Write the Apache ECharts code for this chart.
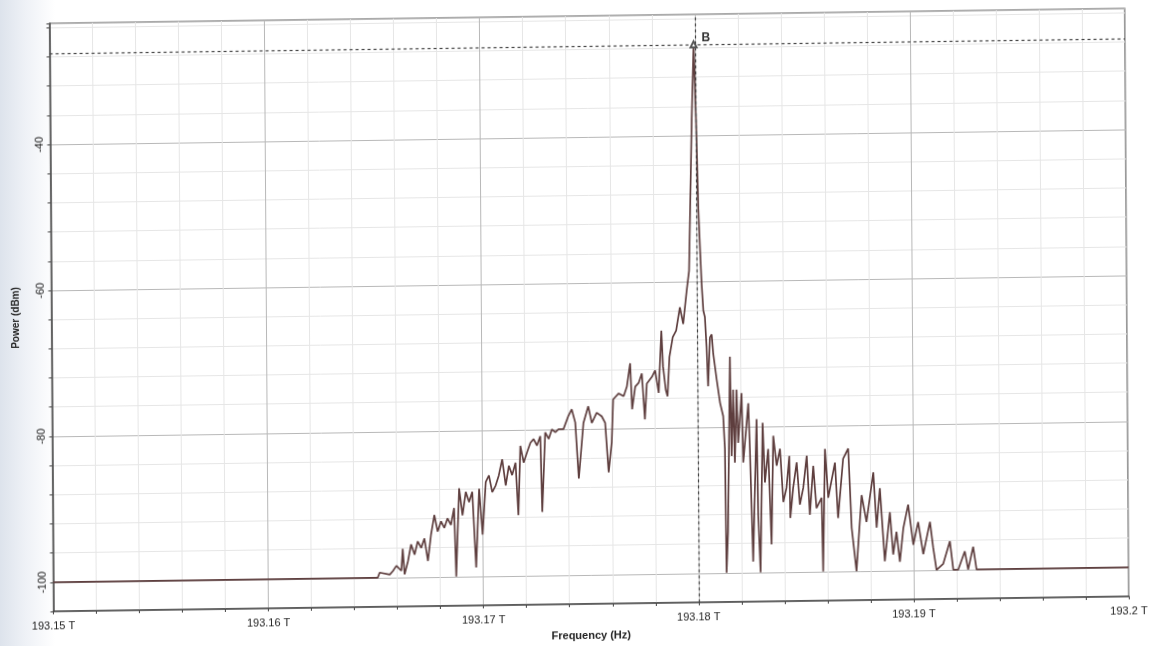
<!DOCTYPE html>
<html>
<head>
<meta charset="utf-8">
<title>Spectrum</title>
<script src="https://cdn.jsdelivr.net/npm/echarts@6.0.0/dist/echarts.min.js"></script>
<style>
  html, body {
    margin: 0;
    padding: 0;
    width: 1168px;
    height: 646px;
    overflow: hidden;
    background: linear-gradient(to right, #dde3ec 0px, #eef1f6 25px, #ffffff 55px);
  }
  /* the reference is a photo of a printout, slightly skewed */
  #main {
    width: 1168px;
    height: 646px;
    transform: matrix(1, -0.0139, 0.0068, 1, 0, 0);
    transform-origin: 584px 323px;
  }
</style>
</head>
<body>
<div id="main"></div>
<script>
// 横轴: 频率 (THz)
var freqTHz = [
  193.15, 193.16509, 193.16518, 193.16565, 193.1658, 193.16596, 193.16619, 193.16626, 193.16634, 193.1665,
  193.16665, 193.16681, 193.16696, 193.16712, 193.16727, 193.16743, 193.16758, 193.16774, 193.16789, 193.16805,
  193.1682, 193.16835, 193.16851, 193.16866, 193.16874, 193.1689, 193.16905, 193.16921, 193.16936, 193.16951,
  193.16967, 193.16983, 193.16998, 193.17014, 193.17029, 193.17044, 193.1706, 193.17075, 193.17091, 193.17107,
  193.17122, 193.17137, 193.17153, 193.17165, 193.17176, 193.17191, 193.17207, 193.17223, 193.17238, 193.17253,
  193.17269, 193.17276, 193.17292, 193.17308, 193.17323, 193.17339, 193.17354, 193.17377, 193.174, 193.17416,
  193.17432, 193.17447, 193.1747, 193.17493, 193.17509, 193.17532, 193.17555, 193.17571, 193.17586, 193.17601,
  193.17609, 193.17635, 193.17658, 193.17673, 193.17689, 193.17697, 193.17712, 193.17728, 193.17743, 193.17756,
  193.17766, 193.1779, 193.17805, 193.17821, 193.17835, 193.17842, 193.17854, 193.17862, 193.17872, 193.17888,
  193.17904, 193.17922, 193.17937, 193.17954, 193.17966, 193.17973, 193.17983, 193.17994, 193.18003, 193.18011,
  193.18018, 193.18024, 193.18031, 193.18038, 193.18045, 193.18051, 193.18061, 193.18069, 193.18076, 193.18091,
  193.18106, 193.1812, 193.18127, 193.18131, 193.18139, 193.18153, 193.18158, 193.18167, 193.18173, 193.18183,
  193.18189, 193.18206, 193.18212, 193.18237, 193.18243, 193.18255, 193.18275, 193.1828, 193.18289, 193.18303,
  193.18312, 193.18328, 193.18341, 193.18352, 193.18367, 193.18383, 193.18397, 193.18412, 193.18426, 193.18429,
  193.18443, 193.1846, 193.18474, 193.1849, 193.18507, 193.1852, 193.18537, 193.18551, 193.18575, 193.1858,
  193.18592, 193.18606, 193.18638, 193.18651, 193.18676, 193.187, 193.18714, 193.18735, 193.18761, 193.18783,
  193.18816, 193.1883, 193.18846, 193.18867, 193.18892, 193.18906, 193.18922, 193.18937, 193.18954, 193.18977,
  193.19, 193.19023, 193.19046, 193.19078, 193.19092, 193.19107, 193.19138, 193.1917, 193.19185, 193.19208,
  193.19239, 193.19254, 193.19278, 193.19293, 193.2
];
// 纵轴: 功率 (dBm)
var powerDbm = [
  -100, -100, -99.3, -99.6, -99.1, -98.4, -99.1, -96.1, -99.6, -97.8,
  -95.5, -96.9, -95.1, -96.0, -94.7, -97.8, -94.2, -91.5, -93.8, -92.4,
  -93.3, -92.0, -92.9, -90.6, -100, -87.9, -91.6, -88.4, -89.8, -88.4,
  -98.8, -88.0, -94.3, -87.1, -86.2, -88.5, -87.6, -86.2, -84.0, -87.6,
  -84.9, -86.2, -84.5, -91.7, -82.2, -84.5, -83.1, -81.8, -81.3, -82.2,
  -80.9, -91.3, -80.4, -81.3, -80.0, -80.4, -80.0, -80.0, -78.2, -77.3,
  -79.1, -86.8, -79.2, -76.9, -79.2, -77.8, -78.3, -79.2, -86.0, -81.9,
  -76.0, -75.2, -75.6, -74.3, -71.1, -77.4, -74.3, -73.8, -72.5, -78.8,
  -73.9, -73.0, -72.1, -75.2, -66.7, -71.6, -74.8, -75.7, -70.3, -67.6,
  -66.7, -63.5, -65.8, -61.3, -58.5, -50.0, -37.8, -27.5, -37.8, -50.0,
  -55.8, -60.4, -64.0, -64.9, -69.0, -74.4, -67.7, -67.3, -70.0, -73.5,
  -76.7, -78.5, -83.0, -100, -94.4, -70.4, -84.0, -74.9, -84.9, -74.9,
  -82.2, -75.4, -84.9, -76.8, -83.0, -98.5, -79.0, -92.1, -100, -79.5,
  -87.7, -83.1, -96.2, -81.3, -85.4, -83.1, -90.4, -88.5, -84.1, -92.6,
  -88.5, -85.0, -90.8, -88.5, -84.1, -92.2, -85.5, -91.3, -89.9, -100,
  -83.2, -89.9, -85.1, -92.7, -84.6, -83.2, -94.1, -100, -89.6, -93.3,
  -86.5, -94.1, -88.7, -98.7, -92.0, -97.8, -94.7, -98.8, -94.2, -91.0,
  -96.5, -93.4, -97.8, -93.4, -96.9, -100, -99.2, -96.1, -100, -100,
  -97.5, -100, -96.9, -100, -100
];
// 标记 B
var markerFreq = 193.17994;
var markerPower = -27.5;
var markerName = "B";
// 坐标轴
var xMin = 193.15, xMax = 193.2, xStep = 0.002;
var yMin = -104, yMax = -23.4, yStep = 4;
var yLabels = [-100, -80, -60, -40];

var points = freqTHz.map(function (f, i) { return [f, powerDbm[i]]; });

var myChart = echarts.init(document.getElementById("main"), null, { renderer: "canvas" });
var font = "Liberation Sans, Arial, sans-serif";

var option = {
  animation: false,
  backgroundColor: "transparent",
  grid: {
    left: 51.5,
    right: 41,
    top: 16,
    bottom: 35,
    show: true,
    borderColor: "#555",
    borderWidth: 1.2
  },
  xAxis: {
    type: "value",
    min: xMin,
    max: xMax,
    interval: xStep,
    name: "Frequency (Hz)",
    nameLocation: "middle",
    nameGap: 26,
    nameTextStyle: { fontFamily: font, fontSize: 11, fontWeight: "bold", color: "#222" },
    axisLine: { show: true, lineStyle: { color: "#444", width: 1.5 } },
    axisTick: { show: true, length: 3, lineStyle: { color: "#444" } },
    axisLabel: {
      fontFamily: font,
      fontSize: 11,
      color: "#222",
      margin: 9,
      formatter: function (v) {
        var k = Math.round((v - xMin) / xStep);
        return k % 5 === 0 ? parseFloat(v.toFixed(2)) + " T" : "";
      }
    },
    splitLine: {
      show: true,
      lineStyle: { color: ["#b8b8b8", "#e6e6e6", "#e6e6e6", "#e6e6e6", "#e6e6e6"], width: 1 }
    }
  },
  yAxis: {
    type: "value",
    min: yMin,
    max: yMax,
    interval: yStep,
    name: "Power (dBm)",
    nameLocation: "middle",
    nameGap: 30,
    nameTextStyle: { fontFamily: font, fontSize: 10, fontWeight: "bold", color: "#222" },
    axisLine: { show: true, lineStyle: { color: "#444", width: 1.5 } },
    axisTick: { show: true, length: 3, lineStyle: { color: "#444" } },
    axisLabel: {
      fontFamily: font,
      fontSize: 11,
      color: "#222",
      rotate: 90,
      margin: 5,
      formatter: function (v) {
        return yLabels.indexOf(Math.round(v)) >= 0 && Math.abs(v - Math.round(v)) < 1e-6 ? String(v) : "";
      }
    },
    splitLine: {
      show: true,
      lineStyle: { color: ["#e6e6e6", "#b8b8b8", "#e6e6e6", "#e6e6e6", "#e6e6e6"], width: 1 }
    }
  },
  series: [
    {
      type: "line",
      data: points,
      showSymbol: false,
      symbol: "none",
      lineStyle: { color: "#5e3e3e", width: 1.7 },
      markLine: {
        silent: true,
        symbol: "none",
        label: { show: false },
        lineStyle: { type: [3, 3], color: "#444", width: 1.2 },
        data: [{ xAxis: markerFreq }, { yAxis: markerPower }]
      },
      markPoint: {
        silent: true,
        symbol: "emptyTriangle",
        symbolSize: 6,
        itemStyle: { color: "#555", borderColor: "#555" },
        label: {
          show: true,
          position: "right",
          distance: 4,
          offset: [0, -6],
          formatter: markerName,
          fontFamily: font,
          fontSize: 12,
          fontWeight: "bold",
          color: "#333"
        },
        data: [{ coord: [markerFreq, markerPower] }]
      }
    }
  ]
};

myChart.setOption(option);
</script>
</body>
</html>
